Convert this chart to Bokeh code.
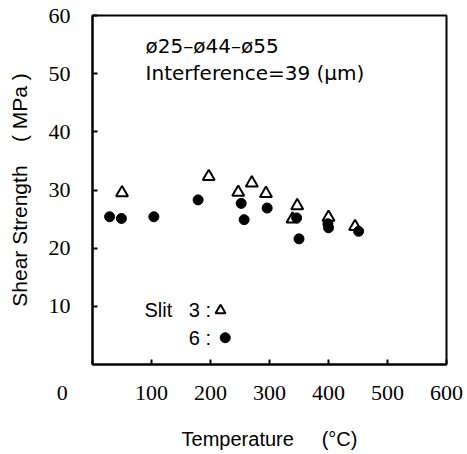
from bokeh.plotting import figure
from bokeh.models import Range1d, FixedTicker, Label
from bokeh.embed import file_html
from bokeh.resources import INLINE

# Data
slit3_temp = [50, 197, 247, 270, 294, 339, 347, 400, 445]
slit3_shear = [29.5, 32.3, 29.6, 31.2, 29.4, 25.0, 27.3, 25.3, 23.7]
slit6_temp = [29, 49, 104, 179, 252, 257, 296, 346, 350, 399, 400, 451]
slit6_shear = [25.4, 25.1, 25.4, 28.3, 27.7, 24.9, 26.9, 25.2, 21.6, 24.2, 23.5, 22.9]

x_ticks = [0, 100, 200, 300, 400, 500, 600]
y_ticks = [10, 20, 30, 40, 50, 60]

TICK_FONT = "Liberation Sans Narrow"
LABEL_FONT = "Liberation Sans"
NOTE_FONT = "DejaVu Sans"
NB = "\u00a0"

p = figure(width=466, height=452, output_backend="svg", toolbar_location=None,
           x_range=Range1d(0, 600), y_range=Range1d(0, 60),
           min_border_left=92, min_border_right=20, min_border_top=15, min_border_bottom=88)

p.xgrid.visible = False
p.ygrid.visible = False
p.outline_line_color = "black"
p.outline_line_width = 2
p.background_fill_color = "white"
p.border_fill_color = "white"

p.xaxis.ticker = FixedTicker(ticks=x_ticks)
# the "0" of the x axis sits well to the left of its tick in the reference
p.xaxis.major_label_overrides = {0: "0" + NB * 11}
p.yaxis.ticker = FixedTicker(ticks=y_ticks)

for ax in (p.xaxis[0], p.yaxis[0]):
    ax.axis_line_width = 2
    ax.axis_line_color = "black"
    ax.major_tick_in = 5
    ax.major_tick_out = 0
    ax.major_tick_line_width = 2
    ax.minor_tick_line_color = None
    ax.major_label_text_font = TICK_FONT
    ax.major_label_text_font_size = "22px"
    ax.major_label_text_color = "black"
    ax.axis_label_text_font = LABEL_FONT
    ax.axis_label_text_font_size = "20px"
    ax.axis_label_text_font_style = "normal"
    ax.axis_label_text_color = "black"

p.yaxis.axis_label_text_font_size = "21px"
p.xaxis.major_label_standoff = 15
p.yaxis.major_label_standoff = 22
p.xaxis.axis_label = "Temperature" + NB * 5 + "(\u00b0C)"
p.yaxis.axis_label = "Shear Strength" + NB * 4 + "(" + NB + "MPa" + NB + ")"
p.xaxis.axis_label_standoff = 20
p.yaxis.axis_label_standoff = 15

# Data markers
p.scatter(slit3_temp, slit3_shear, marker="triangle", size=12, fill_color="white",
          line_color="black", line_width=2)
p.scatter(slit6_temp, slit6_shear, marker="circle", size=10, fill_color="black",
          line_color="black")

# Annotations
p.add_layout(Label(x=90, y=54.8, text="\u00f825\u2013\u00f844\u2013\u00f855", text_font=NOTE_FONT,
                   text_font_size="20px", text_baseline="middle", text_color="black"))
p.add_layout(Label(x=90, y=50.2, text="Interference=39" + NB + "(\u03bcm)", text_font=NOTE_FONT,
                   text_font_size="20px", text_baseline="middle", text_color="black"))

# Key
p.add_layout(Label(x=201, y=9.3, text="Slit" + NB * 3 + "3" + NB + ":", text_font=LABEL_FONT,
                   text_font_size="20px", text_align="right", text_baseline="middle", text_color="black"))
p.add_layout(Label(x=201, y=4.6, text="6" + NB + ":", text_font=LABEL_FONT,
                   text_font_size="20px", text_align="right", text_baseline="middle", text_color="black"))
p.scatter([217], [9.3], marker="triangle", size=10, fill_color="white", line_color="black", line_width=2)
p.scatter([225], [4.6], marker="circle", size=10, fill_color="black", line_color="black")

open("out.html", "w").write(file_html(p, INLINE))
